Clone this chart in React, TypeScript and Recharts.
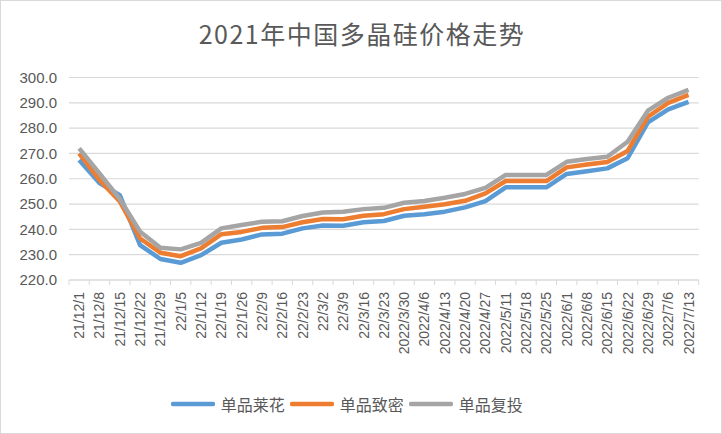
import { LineChart, Line, XAxis, YAxis, CartesianGrid, Legend } from 'recharts'

const categories = [
  '21/12/1', '21/12/8', '21/12/15', '21/12/22', '21/12/29', '22/1/5', '22/1/12',
  '22/1/19', '22/1/26', '22/2/9', '22/2/16', '22/2/23', '22/3/2', '22/3/9',
  '22/3/16', '22/3/23', '2022/3/30', '2022/4/6', '2022/4/13', '2022/4/20',
  '2022/4/27', '2022/5/11', '2022/5/18', '2022/5/25', '2022/6/1', '2022/6/8',
  '2022/6/15', '2022/6/22', '2022/6/29', '2022/7/6', '2022/7/13',
]

const seriesNames = ['单品莱花', '单品致密', '单品复投']

const dantong = [
  267.4, 258.3, 253.5, 233.8, 228.3, 226.8, 229.8, 234.7, 236.0, 238.0, 238.3,
  240.4, 241.5, 241.4, 242.8, 243.3, 245.4, 246.0, 247.0, 248.7, 251.2, 256.6,
  256.6, 256.6, 261.9, 263.0, 264.1, 268.1, 282.3, 287.4, 290.4,
]
const zhimi = [
  270.0, 259.5, 251.0, 236.4, 230.8, 229.4, 232.5, 238.1, 239.0, 240.6, 240.9,
  242.8, 244.1, 244.0, 245.4, 246.0, 248.0, 248.9, 249.9, 251.3, 254.2, 259.1,
  259.1, 259.1, 264.5, 265.6, 266.6, 271.0, 284.5, 290.0, 293.1,
]
const futou = [
  272.0, 262.1, 252.0, 239.1, 232.7, 232.1, 234.7, 240.4, 241.7, 243.0, 243.2,
  245.3, 246.7, 247.0, 248.0, 248.5, 250.5, 251.2, 252.5, 254.0, 256.4, 261.5,
  261.5, 261.5, 266.7, 267.8, 268.7, 274.6, 286.9, 292.0, 295.1,
]
const yTicks = [220, 230, 240, 250, 260, 270, 280, 290, 300]

const data = categories.map((name, i) => ({
  name,
  [seriesNames[0]]: dantong[i],
  [seriesNames[1]]: zhimi[i],
  [seriesNames[2]]: futou[i],
}))

const W = 722
const H = 434
const LEFT = 69
const RIGHT = 23.3
const PLOT_W = W - LEFT - RIGHT
const STEP = PLOT_W / categories.length
const GRID = '#d9d9d9'
const TEXT = '#595959'

const XTick = (props: any) => {
  const { x, y, payload, index } = props
  return (
    <g>
      <line x1={x - STEP / 2} x2={x - STEP / 2} y1={y} y2={y + 5} stroke={GRID} />
      {index === categories.length - 1 && (
        <line x1={x + STEP / 2} x2={x + STEP / 2} y1={y} y2={y + 5} stroke={GRID} />
      )}
      <text
        x={x}
        y={y + 12}
        transform={`rotate(-90, ${x}, ${y + 12})`}
        textAnchor="end"
        dominantBaseline="central"
        fill={TEXT}
        fontSize={14}
        fontFamily="Liberation Sans, Arial, sans-serif"
      >
        {payload.value}
      </text>
    </g>
  )
}

const LegendContent = (props: any) => {
  const items = [...(props.payload || [])].sort(
    (a: any, b: any) => seriesNames.indexOf(a.value) - seriesNames.indexOf(b.value)
  )
  return (
    <div style={{ display: 'flex', justifyContent: 'center', alignItems: 'center' }}>
      {items.map((entry: any) => (
        <div key={entry.value} style={{ display: 'flex', alignItems: 'center', marginRight: 5 }}>
          <svg width={44} height={8} style={{ marginRight: 6 }}>
            <line x1={2} x2={42} y1={4} y2={4} stroke={entry.color} strokeWidth={4.5} strokeLinecap="round" />
          </svg>
          <span style={{ fontSize: 16, color: TEXT, fontFamily: 'Noto Sans CJK SC, sans-serif' }}>
            {entry.value}
          </span>
        </div>
      ))}
    </div>
  )
}

export default function App() {
  return (
    <div
      style={{
        position: 'absolute',
        left: 0,
        top: 0,
        width: W,
        height: H,
        boxSizing: 'border-box',
        border: `1px solid ${GRID}`,
        background: '#fff',
      }}
    >
      <div
        style={{
          position: 'absolute',
          top: 14,
          left: 0,
          width: W,
          textAlign: 'center',
          fontSize: 25,
          letterSpacing: 1.5,
          color: TEXT,
          fontFamily: 'Noto Sans CJK SC, sans-serif',
          lineHeight: '36px',
        }}
      >
        2021年中国多晶硅价格走势
      </div>
      <div style={{ position: 'absolute', left: -1, top: -1 }}>
        <LineChart
          width={W}
          height={H}
          data={data}
          margin={{ top: 77.5, right: RIGHT, left: 0, bottom: 0 }}
        >
          <CartesianGrid vertical={false} stroke={GRID} strokeWidth={1.2} />
          <XAxis
            dataKey="name"
            interval={0}
            tickLine={false}
            tickSize={0}
            tickMargin={0}
            axisLine={{ stroke: GRID, strokeWidth: 1.2 }}
            padding={{ left: STEP / 2, right: STEP / 2 }}
            height={112}
            tick={<XTick />}
          />
          <YAxis
            width={LEFT}
            domain={[220, 300]}
            ticks={yTicks}
            interval={0}
            axisLine={false}
            tickLine={false}
            tickSize={0}
            tickMargin={12}
            tickFormatter={(v: number) => v.toFixed(1)}
            tick={{ fill: TEXT, fontSize: 15, fontFamily: 'Liberation Sans, Arial, sans-serif' }}
          />
          <Legend
            verticalAlign="bottom"
            height={42}
            content={<LegendContent />}
          />
          <Line
            dataKey={seriesNames[0]}
            stroke="#5B9BD5"
            strokeWidth={4.5}
            dot={false}
            strokeLinejoin="round"
            isAnimationActive={false}
          />
          <Line
            dataKey={seriesNames[1]}
            stroke="#ED7D31"
            strokeWidth={4.5}
            dot={false}
            strokeLinejoin="round"
            isAnimationActive={false}
          />
          <Line
            dataKey={seriesNames[2]}
            stroke="#A5A5A5"
            strokeWidth={4.5}
            dot={false}
            strokeLinejoin="round"
            isAnimationActive={false}
          />
        </LineChart>
      </div>
    </div>
  )
}
